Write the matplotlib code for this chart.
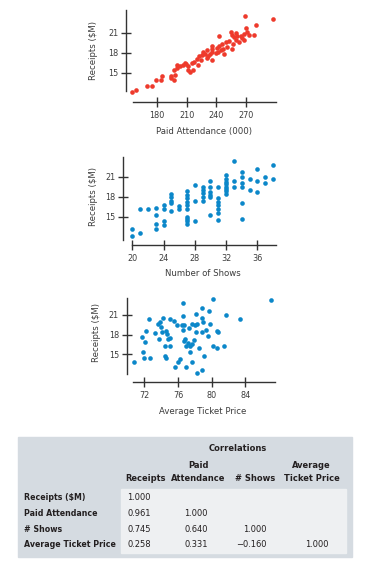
import numpy as np
import matplotlib
matplotlib.use("Agg")
import matplotlib.pyplot as plt
from matplotlib.patches import Rectangle
from matplotlib import font_manager

# --- data ------------------------------------------------------------------
attendance = [154.5, 158.6, 170.2, 175.2, 179.3, 184.4, 185.5, 193.9, 197.0, 198.0,
              197.4, 200.0, 199.7, 203.0, 209.0, 211.6, 211.6, 215.0, 216.0, 217.7,
              220.0, 221.0, 222.4, 225.0, 226.9, 228.6, 230.3, 232.0, 233.6, 235.4,
              236.0, 240.0, 242.5, 243.0, 245.0, 246.0, 247.6, 249.3, 251.0, 252.7,
              254.4, 255.4, 256.8, 257.8, 259.5, 261.2, 262.9, 268.5, 266.3, 268.0,
              269.7, 270.7, 273.0, 278.2, 279.9, 297.5, 240.7, 241.7, 246.6, 256.0,
              259.5, 264.6, 268.0, 235.4, 230.3, 224.5, 213.0, 208.0, 194.6, 206.3,
              236.0]
receipts_att = [12.1, 12.5, 13.1, 13.1, 13.9, 13.9, 14.6, 14.5, 14.0, 14.7,
                15.5, 16.2, 15.7, 16.0, 16.4, 16.0, 15.4, 16.5, 15.5, 16.7,
                17.1, 16.2, 17.5, 17.7, 18.2, 17.9, 18.4, 17.5, 17.9, 18.6,
                17.0, 18.0, 20.5, 19.0, 18.4, 19.4, 17.9, 19.6, 18.9, 19.8,
                21.1, 18.6, 19.4, 20.4, 19.9, 20.5, 19.6, 23.6, 20.2, 20.9,
                21.8, 21.1, 20.7, 20.7, 22.2, 23.1, 18.8, 18.2, 18.6, 20.7,
                21.0, 20.5, 19.9, 18.2, 17.2, 17.0, 15.2, 16.5, 14.3, 16.2,
                19.0]

shows = ([20] * 2 + [21] * 2 + [22] + [23] * 4 + [24] * 4 + [25] * 5 + [26] * 2 +
         [27] * 10 + [28] * 3 + [29] * 5 + [30] * 6 + [31] * 7 + [32] * 8 +
         [33] * 3 + [34] * 6 + [35] * 2 + [36] * 3 + [37] * 2 + [38] * 2)
receipts_shows = [13.2, 12.1,
                  16.2, 12.5,
                  16.1,
                  16.3, 15.3, 13.9, 13.2,
                  16.7, 16.2, 14.4, 13.8,
                  18.4, 17.9, 17.4, 17.0, 15.9,
                  16.6, 16.2,
                  18.8, 18.3, 17.8, 17.2, 16.8, 16.1, 15.0, 14.7, 14.3, 13.9,
                  19.7, 17.3, 14.4,
                  19.5, 19.0, 18.5, 17.9, 17.3,
                  20.4, 19.4, 18.7, 18.2, 17.9, 15.3,
                  19.5, 17.8, 17.2, 16.7, 16.1, 15.5, 14.5,
                  21.2, 20.7, 20.2, 19.9, 19.5, 19.1, 18.8, 18.4,
                  23.4, 20.4, 19.4,
                  21.7, 21.0, 20.0, 19.5, 17.0, 14.7,
                  20.7, 19.0,
                  22.2, 20.4, 18.7,
                  20.9, 20.1,
                  22.7, 20.6]

ticket_price = [70.8, 71.7, 71.9, 72.0, 72.1, 72.2, 72.6, 72.7, 73.3, 73.6,
                73.7, 73.9, 74.0, 74.1, 74.2, 74.4, 74.5, 74.6, 74.6, 74.7,
                74.8, 75.0, 75.1, 75.1, 75.5, 75.6, 75.9, 76.0, 76.2, 76.5,
                76.6, 76.6, 76.6, 76.7, 76.7, 76.8, 76.9, 77.0, 77.2, 77.3,
                77.4, 77.4, 77.6, 77.6, 77.7, 77.9, 78.0, 78.1, 78.1, 78.2,
                78.3, 78.5, 78.8, 78.8, 78.9, 78.9, 79.0, 79.1, 79.3, 79.5,
                79.7, 79.8, 80.1, 80.2, 80.6, 80.7, 80.6, 81.4, 81.7, 83.4,
                87.0]
receipts_price = [13.9, 17.7, 15.4, 14.5, 16.9, 18.6, 20.4, 14.5, 18.2, 19.7,
                  17.3, 20.0, 19.1, 18.4, 20.6, 16.2, 14.8, 14.4, 18.6, 18.1,
                  17.3, 20.4, 16.2, 17.5, 20.1, 13.1, 19.5, 13.9, 14.3, 19.5,
                  20.8, 22.8, 18.7, 17.0, 19.5, 17.3, 16.2, 13.1, 16.7, 19.0,
                  15.4, 16.2, 19.6, 13.9, 16.5, 17.2, 19.5, 21.1, 18.4, 19.6,
                  12.1, 16.0, 18.4, 20.6, 22.0, 12.6, 20.0, 14.7, 18.7, 17.8,
                  21.6, 19.7, 16.2, 23.5, 18.5, 18.4, 15.9, 16.3, 21.0, 20.4,
                  23.3]

col_heads = [("", "Receipts"), ("Paid", "Attendance"), ("", "# Shows"), ("Average", "Ticket Price")]
row_names = ["Receipts ($M)", "Paid Attendance", "# Shows", "Average Ticket Price"]
corr = [["1.000"],
        ["0.961", "1.000"],
        ["0.745", "0.640", "1.000"],
        ["0.258", "0.331", "\u22120.160", "1.000"]]

# --- pick the narrowest sans that is installed ------------------------------
entries = font_manager.fontManager.ttflist
if any(f.name == "Liberation Sans Narrow" for f in entries):
    FONT = dict(family=["Liberation Sans Narrow", "DejaVu Sans"])
    SHRINK = 1.0
elif any(f.name == "DejaVu Sans" and str(f.stretch) in ("condensed", "semi-condensed")
         for f in entries):
    FONT = dict(family=["DejaVu Sans"], stretch="condensed")
    SHRINK = 0.92
else:
    FONT = dict(family=["Liberation Sans", "DejaVu Sans"])
    SHRINK = 0.85

# --- figure -----------------------------------------------------------------
W, H = 374, 563
fig = plt.figure(figsize=(W / 100, H / 100), dpi=100)
AX_COL = "#333333"
TXT_COL = "#3c3c3c"


def px_axes(left, top, right, bottom):
    return fig.add_axes([left / W, 1 - bottom / H, (right - left) / W, (bottom - top) / H])


def ftext(x, y, s, size, **kw):
    fig.text(x / W, 1 - y / H, s, fontsize=size * SHRINK, **FONT, **kw)


def style(ax, xlim, ylim, xticks, yticks, off_left, off_bottom):
    ax.set_xlim(xlim)
    ax.set_ylim(ylim)
    ax.set_xticks(xticks)
    ax.set_yticks(yticks)
    for s in ["top", "right"]:
        ax.spines[s].set_visible(False)
    ax.spines["left"].set_position(("outward", off_left * 0.72))
    ax.spines["bottom"].set_position(("outward", off_bottom * 0.72))
    for s in ["left", "bottom"]:
        ax.spines[s].set_color(AX_COL)
        ax.spines[s].set_linewidth(1.0)
    ax.tick_params(direction="inout", length=7, width=1.0, color=AX_COL,
                   labelcolor=TXT_COL)
    ax.tick_params(axis="x", pad=3)
    ax.tick_params(axis="y", pad=2)
    for lab in ax.get_xticklabels() + ax.get_yticklabels():
        lab.set_fontsize(7.0 * SHRINK)
        lab.set_family(FONT["family"])
        if "stretch" in FONT:
            lab.set_stretch(FONT["stretch"])
    ax.patch.set_alpha(0)


# plot 1
ax1 = px_axes(133, 10, 276, 91)
ax1.scatter(attendance, receipts_att, s=11, color="#ee3a2c", lw=0, clip_on=False)
style(ax1, (155.7, 300.3), (12.3, 24.45), [180, 210, 240, 270], [15, 18, 21], 7, 11)
ftext(204, 131.5, "Paid Attendance (000)", 7.4, ha="center", va="center", color=TXT_COL)
ftext(94, 51, "Receipts ($M)", 7.4, ha="center", va="center", rotation=90, color=TXT_COL)

# plot 2
ax2 = px_axes(131.7, 156.7, 276, 240)
ax2.scatter(shows, receipts_shows, s=11, color="#0b87c9", lw=0, clip_on=False)
style(ax2, (19.92, 38.39), (11.5, 24.0), [20, 24, 28, 32, 36], [15, 18, 21], 8.4, 5)
ftext(203, 273, "Number of Shows", 7.4, ha="center", va="center", color=TXT_COL)
ftext(93, 197, "Receipts ($M)", 7.4, ha="center", va="center", rotation=90, color=TXT_COL)

# plot 3
ax3 = px_axes(133.3, 297.7, 275, 374.3)
ax3.scatter(ticket_price, receipts_price, s=11, color="#0b87c9", lw=0, clip_on=False)
style(ax3, (70.69, 87.51), (11.95, 23.64), [72, 76, 80, 84], [15, 18, 21], 6.6, 8)
ftext(203, 412, "Average Ticket Price", 7.4, ha="center", va="center", color=TXT_COL)
ftext(96, 333, "Receipts ($M)", 7.4, ha="center", va="center", rotation=90, color=TXT_COL)

# --- correlation table ------------------------------------------------------
fig.patches.append(Rectangle((18 / W, 1 - 557 / H), (352 - 18) / W, (557 - 437) / H,
                             transform=fig.transFigure, color="#d5dbe1", zorder=0))
fig.patches.append(Rectangle((121 / W, 1 - 553 / H), (346 - 121) / W, (553 - 489) / H,
                             transform=fig.transFigure, color="#eef0f2", zorder=0))

TAB_COL = "#231f20"
head_x = [146, 198.5, 255, 311.5]
num_right = [150.7, 207.7, 266.7, 328.3]
row_y = [497.7, 513.3, 529, 544.3]

ftext(237.7, 448.3, "Correlations", 7.3, ha="center", va="center",
      weight="bold", color=TAB_COL)
for x, (top, bot) in zip(head_x, col_heads):
    if top:
        ftext(x, 465.7, top, 7.3, ha="center", va="center", weight="bold", color=TAB_COL)
    ftext(x, 478.3, bot, 7.3, ha="center", va="center", weight="bold", color=TAB_COL)

for y, name, vals in zip(row_y, row_names, corr):
    ftext(24, y, name, 6.9, ha="left", va="center", weight="bold", color=TAB_COL)
    for xr, v in zip(num_right, vals):
        ftext(xr, y, v, 7.3, ha="right", va="center", color=TAB_COL)

fig.savefig("out.png", dpi=100)
